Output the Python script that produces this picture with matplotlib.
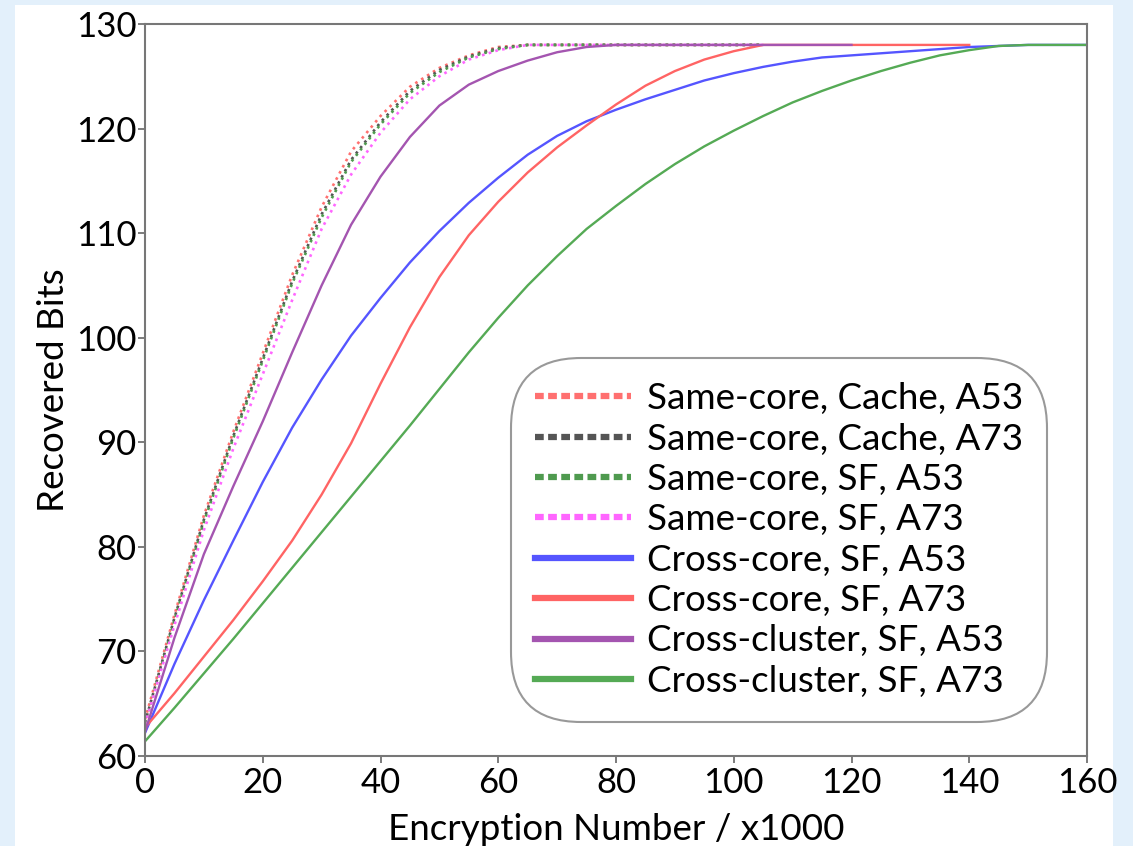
import matplotlib
matplotlib.use("Agg")
import matplotlib.pyplot as plt
from matplotlib.lines import Line2D
from matplotlib.patches import Rectangle

plt.rcParams['font.family'] = ['Lato', 'DejaVu Sans']

# x positions (encryption number / x1000)
enc = [0, 5, 10, 15, 20, 25, 30, 35, 40, 45, 50, 55, 60, 65, 70, 75, 80,
       85, 90, 95, 100, 105, 110, 115, 120, 125, 130, 135, 140, 145, 150, 155, 160]

same_cache_a53 = [63.5, 73.5, 83.0, 91.0, 98.5, 106.0, 112.5, 117.8, 121.2, 124.0, 125.8,
                  127.0, 127.8, 128, 128, 128, 128, 128, 128, 128, 128, 128]
same_cache_a73 = [63.2, 73.2, 82.6, 90.6, 98.0, 105.4, 111.8, 117.0, 120.6, 123.6, 125.6,
                  126.9, 127.7, 128, 128, 128, 128, 128, 128, 128, 128, 128]
same_sf_a53 = [63.0, 73.0, 82.4, 90.4, 97.8, 105.2, 111.5, 116.8, 120.4, 123.4, 125.4,
               126.8, 127.6, 128, 128, 128, 128, 128, 128, 128, 128, 128]
same_sf_a73 = [63.0, 72.5, 81.6, 89.4, 96.5, 103.6, 110.4, 115.6, 119.6, 122.8, 125.0,
               126.6, 127.5, 128, 128, 128, 128, 128, 128, 128, 128, 128]
cross_core_a53 = [62.2, 68.8, 74.9, 80.6, 86.2, 91.4, 96.0, 100.2, 103.8, 107.2, 110.2,
                  112.9, 115.3, 117.5, 119.3, 120.7, 121.8, 122.8, 123.7, 124.6, 125.3,
                  125.9, 126.4, 126.8, 127.0, 127.2, 127.4, 127.6, 127.8, 127.9, 128, 128, 128]
cross_core_a73 = [62.7, 66.0, 69.5, 73.0, 76.7, 80.6, 85.0, 89.9, 95.6, 101.0, 105.8,
                  109.8, 113.0, 115.8, 118.2, 120.3, 122.3, 124.1, 125.5, 126.6, 127.4,
                  128, 128, 128, 128, 128, 128, 128, 128]
cross_cluster_a53 = [62.3, 71.3, 79.3, 85.8, 92.0, 98.6, 105.0, 110.8, 115.4, 119.2, 122.2,
                     124.2, 125.5, 126.5, 127.3, 127.8, 128, 128, 128, 128, 128, 128, 128, 128, 128]
cross_cluster_a73 = [61.4, 64.6, 67.9, 71.2, 74.6, 78.0, 81.4, 84.8, 88.2, 91.6, 95.1,
                     98.6, 101.9, 105.0, 107.8, 110.4, 112.6, 114.7, 116.6, 118.3, 119.8,
                     121.2, 122.5, 123.6, 124.6, 125.5, 126.3, 127.0, 127.5, 127.9, 128, 128, 128]

labels = ["Same-core, Cache, A53", "Same-core, Cache, A73", "Same-core, SF, A53",
          "Same-core, SF, A73", "Cross-core, SF, A53", "Cross-core, SF, A73",
          "Cross-cluster, SF, A53", "Cross-cluster, SF, A73"]
series = [same_cache_a53, same_cache_a73, same_sf_a53, same_sf_a73,
          cross_core_a53, cross_core_a73, cross_cluster_a53, cross_cluster_a73]
colors = ["#ff7070", "#555555", "#4f9a4f", "#ff66ff",
          "#5555ff", "#ff6464", "#a455b0", "#55aa55"]
styles = [":", ":", ":", ":", "-", "-", "-", "-"]

fig = plt.figure(figsize=(11.33, 8.46), dpi=100, facecolor="#e3f0fb")
fig.patches.append(Rectangle((15 / 1133, 0), (1113 - 15) / 1133, 1 - 5 / 846,
                             transform=fig.transFigure, facecolor="white",
                             edgecolor="none", zorder=-10))
ax = fig.add_axes([145 / 1133, 1 - 756 / 846, (1087 - 145) / 1133, (756 - 24) / 846])
ax.set_zorder(5)

for y, c, ls in zip(series, colors, styles):
    ax.plot(enc[:len(y)], y, color=c, linestyle=ls, linewidth=1.9 if ls == ":" else 1.7)

ax.set_xlim(0, 160)
ax.set_ylim(60, 130)
ax.set_xticks(range(0, 161, 20))
ax.set_yticks(range(60, 131, 10))
for s in ax.spines.values():
    s.set_color("#777777")
    s.set_linewidth(1.5)
ax.tick_params(axis="both", direction="out", length=5, width=1.2, color="#666666",
               labelsize=25, pad=1)
ax.tick_params(axis="x", pad=3)
ax.set_xlabel("Encryption Number / x1000", fontsize=26.5, labelpad=10)
ax.set_ylabel("Recovered Bits", fontsize=26.5, labelpad=4)

handles = []
for c, ls in zip(colors, styles):
    if ls == ":":
        handles.append(Line2D([], [], color=c, linewidth=4.5, linestyle=(0, (1.4, 0.7))))
    else:
        handles.append(Line2D([], [], color=c, linewidth=4.5, linestyle="-"))
leg = ax.legend(handles, labels, loc="center", bbox_to_anchor=(779 / 1133, 1 - 540 / 846),
                bbox_transform=fig.transFigure, fontsize=26.5, handlelength=2.6,
                handletextpad=0.42, labelspacing=0.2, borderpad=0.35, frameon=True,
                framealpha=1, edgecolor="#999999")
leg.get_frame().set_linewidth(1.5)
leg.get_frame().set_boxstyle("round,pad=0.3,rounding_size=1.9")

fig.savefig("out.png", dpi=100, facecolor=fig.get_facecolor())
